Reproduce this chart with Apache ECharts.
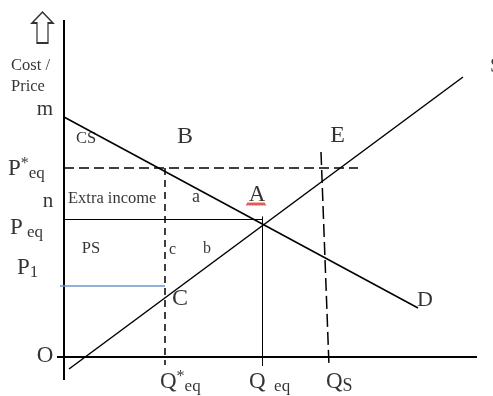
<!DOCTYPE html>
<html>
<head>
<meta charset="utf-8">
<script src="https://cdn.jsdelivr.net/npm/echarts@6/dist/echarts.min.js"></script>
<style>
  html, body { margin: 0; padding: 0; background: #fff; }
  #main { width: 493px; height: 396px; }
</style>
</head>
<body>
<div id="main"></div>
<script>
// quantity (x) and cost / price (y), origin O at (0, 0)
var demandLine = [[0, 24], [35.4, 4.9]];
var supplyLine = [[0.5, -1.2], [39.9, 28]];

var priceNames = ['m', 'P*eq', 'Peq', 'P1'];
var priceValues = [24, 18.9, 13.75, 7.1];

var qtyNames = ['Q*eq', 'Qeq', 'QS'];
var qtyValues = [10.1, 19.85, 25.9];

// axis extents
var qRange = [-0.7, 41.3];
var pRange = [-2.3, 33.7];

// text: [q, p, rich text, align]
var labels = [
    [-5.3, 29.1, '{r|Cost /}', 'left'],
    [-5.3, 27.0, '{r|Price}', 'left'],
    [-1.9, 24.8, '{l|m}', 'center'],
    [2.2, 21.8, '{r|CS}', 'center'],
    [12.1, 22.0, '{xl|B}', 'center'],
    [27.35, 22.1, '{xl|E}', 'center'],
    [42.6, 29.1, '{l|S}', 'left'],
    [-5.6, 18.8, '{p|P}{sup|*}{sub|eq}', 'left'],
    [-1.6, 15.6, '{l|n}', 'center'],
    [0.4, 15.8, '{r|Extra income}', 'left'],
    [13.2, 16.0, '{m|a}', 'center'],
    [19.3, 16.2, '{p|A}', 'center'],
    [-5.4, 12.9, '{p|P}{sub| eq}', 'left'],
    [2.7, 10.8, '{r|PS}', 'center'],
    [10.85, 10.7, '{s|c}', 'center'],
    [14.3, 10.8, '{s|b}', 'center'],
    [-4.7, 8.9, '{p|P}{sub|1}', 'left'],
    [11.6, 5.8, '{xl|C}', 'center'],
    [36.1, 5.7, '{d|D}', 'center'],
    [-1.9, 0.1, '{o|O}', 'center'],
    [9.6, -2.5, '{p|Q}{sup|*}{sub|eq}', 'left'],
    [18.5, -2.5, '{p|Q}{sub|  eq}', 'left'],
    [26.2, -2.5, '{p|Q}{subS|S}', 'left']
];

var serif = 'Liberation Serif';
var rich = {
    r: {fontSize: 16.5, fontFamily: serif, color: '#000'},
    s: {fontSize: 16, fontFamily: serif, color: '#000'},
    m: {fontSize: 18, fontFamily: serif, color: '#000'},
    l: {fontSize: 21, fontFamily: serif, color: '#000'},
    o: {fontSize: 23, fontFamily: serif, color: '#000'},
    p: {fontSize: 23, fontFamily: serif, color: '#000', lineHeight: 26},
    d: {fontSize: 22, fontFamily: serif, color: '#000'},
    xl: {fontSize: 24, fontFamily: serif, color: '#000'},
    sup: {fontSize: 16, fontFamily: serif, color: '#000', lineHeight: 10, verticalAlign: 'top'},
    sub: {fontSize: 17, fontFamily: serif, color: '#000', lineHeight: 13, verticalAlign: 'bottom'},
    subS: {fontSize: 18, fontFamily: serif, color: '#000', lineHeight: 18, verticalAlign: 'bottom'}
};

var seg = function (name, data, style) {
    return {
        name: name,
        type: 'line',
        data: data,
        symbol: 'none',
        silent: true,
        animation: false,
        lineStyle: style
    };
};

var pStar = priceValues[1], pEq = priceValues[2], p1 = priceValues[3];
var qStar = qtyValues[0], qEq = qtyValues[1], qS = qtyValues[2];

var chart = echarts.init(document.getElementById('main'));
var option = {
    backgroundColor: '#fff',
    animation: false,
    grid: {left: 0, right: 0, top: 0, bottom: 0},
    xAxis: {type: 'value', min: -6.4, max: 42.9, show: false},
    yAxis: {type: 'value', min: -3.9, max: 35.7, show: false},
    series: [
        seg('x axis', [[qRange[0], 0], [qRange[1], 0]], {color: '#000', width: 2}),
        seg('y axis', [[0, pRange[0]], [0, pRange[1]]], {color: '#000', width: 2}),
        seg('P*eq', [[0, pStar], [29.4, pStar]], {color: '#000', width: 1.5, type: [10, 5]}),
        seg('Peq', [[0, pEq], [qEq, pEq]], {color: '#000', width: 1}),
        seg('P1', [[-0.4, p1], [qStar, p1]], {color: '#7094cf', width: 1.5}),
        seg('Q*eq', [[qStar, pStar], [qStar, -0.8]], {color: '#000', width: 1.5, type: [7, 5]}),
        seg('Qeq', [[qEq, pEq + 0.3], [qEq, -0.9]], {color: '#000', width: 1}),
        seg('QS', [[qS - 0.2, 20.5], [qS + 0.6, -0.9]], {color: '#000', width: 1.5, type: [13, 5]}),
        seg('D', demandLine, {color: '#000', width: 1.5}),
        seg('S', supplyLine, {color: '#000', width: 1.5}),
        {
            name: 'arrow',
            type: 'scatter',
            silent: true,
            animation: false,
            symbol: 'path://M5,31 L5,11 L0,11 L10.5,0 L21,11 L16,11 L16,31 Z',
            symbolSize: [21, 31],
            itemStyle: {color: 'rgba(0,0,0,0)', borderColor: '#000', borderWidth: 1.5},
            data: [[-2.15, 32.95]]
        },
        {
            name: 'spell',
            type: 'scatter',
            silent: true,
            animation: false,
            symbol: 'path://M0,3 L1.5,0 L3,3 L4.5,0 L6,3 L7.5,0 L9,3 L10.5,0 L12,3 L13.5,0 L15,3 L16.5,0 L18,3',
            symbolSize: [18, 3],
            itemStyle: {color: 'rgba(0,0,0,0)', borderColor: '#e03030', borderWidth: 1},
            data: [[19.2, 15.3]]
        },
        {
            name: 'labels',
            type: 'scatter',
            silent: true,
            animation: false,
            symbolSize: 0,
            data: labels.map(function (d) {
                return {
                    value: [d[0], d[1]],
                    label: {
                        show: true,
                        position: 'inside',
                        align: d[3],
                        verticalAlign: 'middle',
                        formatter: d[2],
                        rich: rich
                    }
                };
            })
        }
    ]
};
chart.setOption(option);
</script>
</body>
</html>
